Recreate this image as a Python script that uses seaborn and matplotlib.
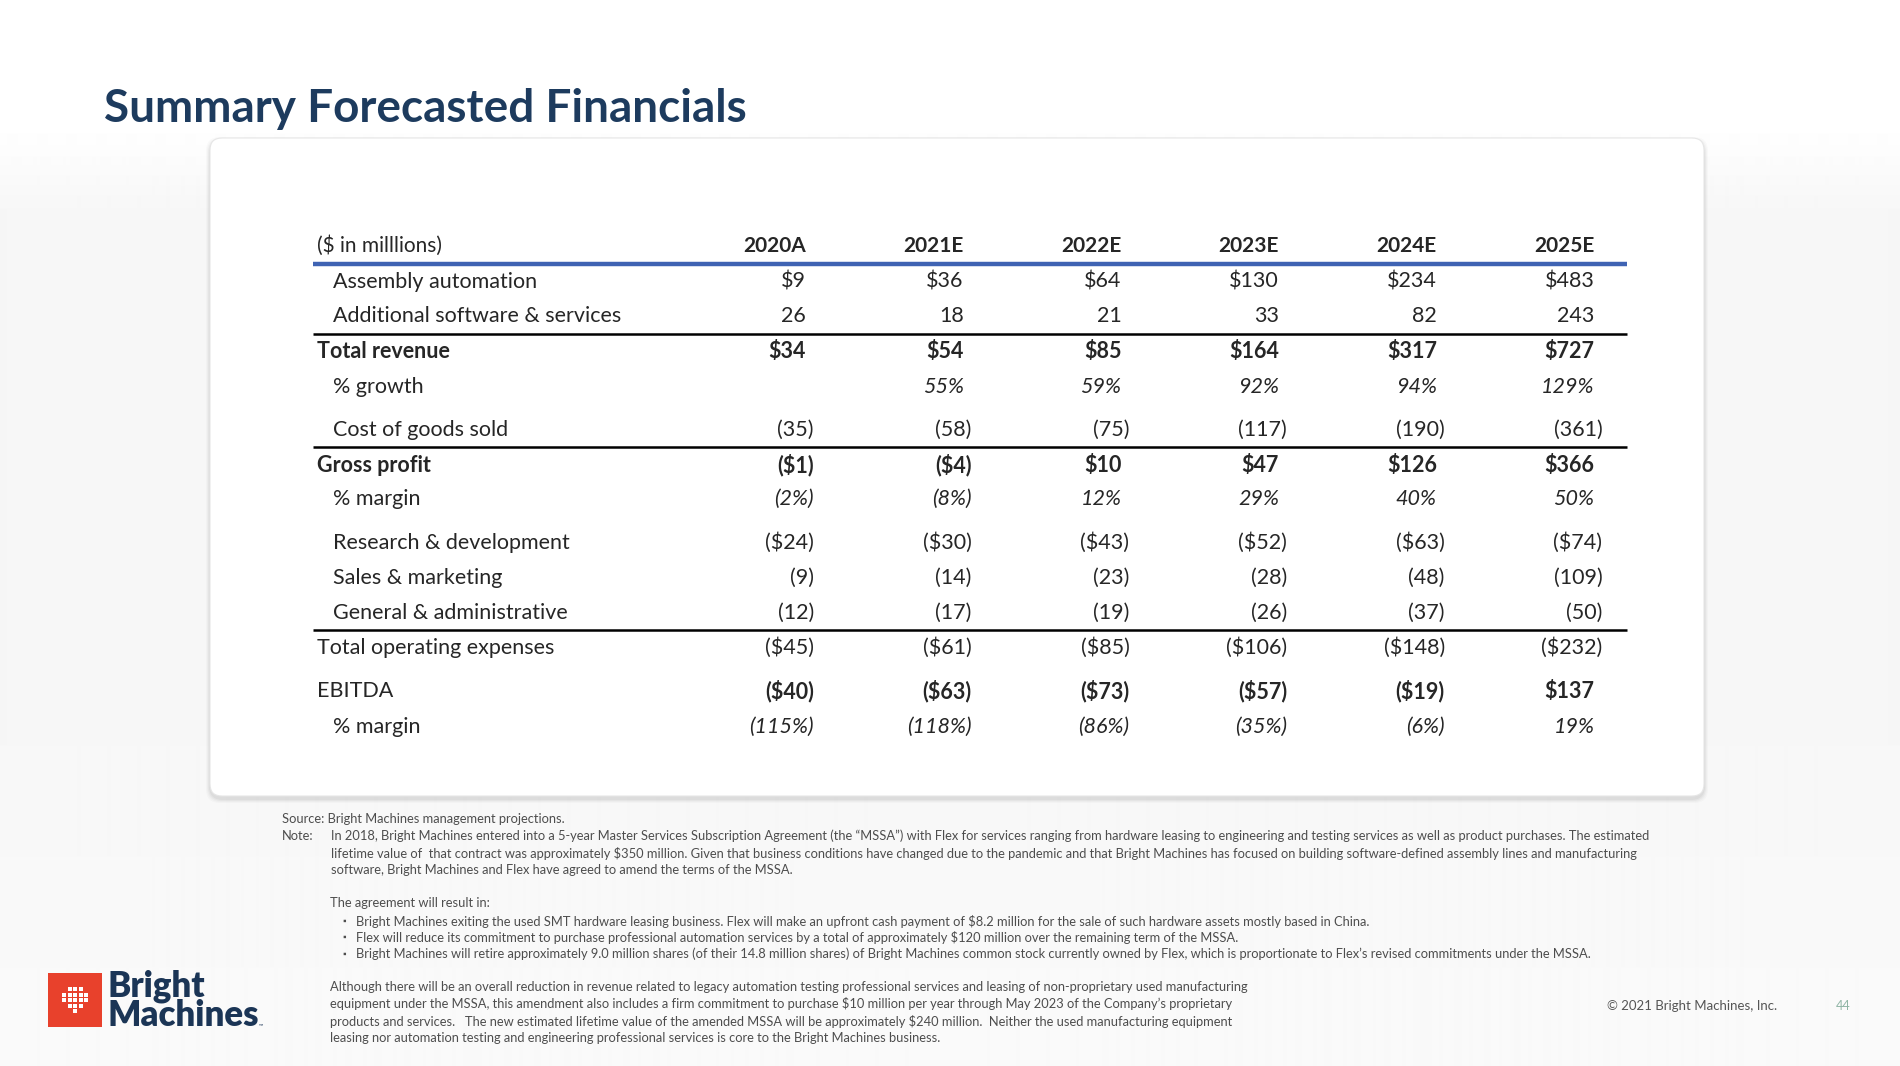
import numpy as np
import pandas as pd
import seaborn as sns
import matplotlib
matplotlib.use("Agg")
import matplotlib.pyplot as plt
from matplotlib.patches import FancyBboxPatch, Rectangle
from matplotlib import font_manager as fm

# ---------------- data ----------------
years = ["2020A", "2021E", "2022E", "2023E", "2024E", "2025E"]
assembly_automation = [9, 36, 64, 130, 234, 483]
additional_software = [26, 18, 21, 33, 82, 243]
total_revenue = [34, 54, 85, 164, 317, 727]
revenue_growth = [None, 55, 59, 92, 94, 129]
cost_of_goods = [-35, -58, -75, -117, -190, -361]
gross_profit = [-1, -4, 10, 47, 126, 366]
gross_margin = [-2, -8, 12, 29, 40, 50]
research_dev = [-24, -30, -43, -52, -63, -74]
sales_marketing = [-9, -14, -23, -28, -48, -109]
general_admin = [-12, -17, -19, -26, -37, -50]
total_opex = [-45, -61, -85, -106, -148, -232]
ebitda = [-40, -63, -73, -57, -19, 137]
ebitda_margin = [-115, -118, -86, -35, -6, 19]

row_labels = ["Assembly automation", "Additional software & services", "Total revenue",
              "% growth", "Cost of goods sold", "Gross profit", "% margin",
              "Research & development", "Sales & marketing", "General & administrative",
              "Total operating expenses", "EBITDA", "% margin"]

sns.set_theme(style="white")
installed = {f.name for f in fm.fontManager.ttflist}
MAIN = "Lato" if "Lato" in installed else "DejaVu Sans"
NOTE = MAIN
plt.rcParams["font.family"] = [MAIN, "DejaVu Sans"]

W, H = 1900, 1066
fig = plt.figure(figsize=(W / 100, H / 100), dpi=100, facecolor="white")
ax = fig.add_axes([0, 0, 1, 1])
ax.axis("off")

# soft slide background: white at top, very light grey lower down
yy = np.linspace(0, 1, 1066)[:, None]
t = np.clip((yy - 0.10) / 0.12, 0, 1)
t = t * t * (3 - 2 * t)
shade = 1.0 - 0.035 * t + 0.015 * np.clip((yy - 0.6) / 0.4, 0, 1) * t
ax.imshow(np.repeat(shade, 2, axis=1), cmap="gray", vmin=0, vmax=1, aspect="auto",
          extent=(0, W, H, 0), zorder=0, interpolation="bilinear")
ax.set_xlim(0, W)
ax.set_ylim(H, 0)

# title
ax.text(104, 109, "Summary Forecasted Financials", fontsize=33, fontweight="bold",
        color="#1d3b5e", va="center", ha="left", zorder=3)

# card with soft shadow
for i, a in enumerate([0.02, 0.025, 0.03, 0.04]):
    d = 8 - 2 * i
    ax.add_patch(FancyBboxPatch((210 - d / 2, 138 - d / 2 + 3), 1494 + d, 658 + d,
                                boxstyle="round,pad=0,rounding_size=14",
                                fc="black", ec="none", alpha=a, zorder=1))
ax.add_patch(FancyBboxPatch((210, 138), 1494, 658, boxstyle="round,pad=0,rounding_size=12",
                            fc="white", ec="#e6e6e6", lw=0.8, zorder=2))

# ---------------- table ----------------
TXT = "#262626"
col_x = 806 + 157.7 * np.arange(len(years))
x_left, x_right = 313, 1627
x_lab0, x_lab1 = 317, 333


def fmt(v, kind):
    if v is None:
        return ""
    body = f"{abs(v)}"
    if kind == "dollar":
        body = "$" + body
    elif kind == "pct":
        body = body + "%"
    return f"({body})" if v < 0 else body


# header
ax.text(x_lab0, 246, "($ in milllions)", fontsize=15, color=TXT, va="center", ha="left", zorder=3)
for x, yr in zip(col_x, years):
    ax.text(x, 246, yr, fontsize=15, fontweight="bold", color=TXT, va="center", ha="right", zorder=3)
ax.plot([x_left, x_right], [264, 264], color="#3f63b3", lw=3.2, solid_capstyle="butt", zorder=3)

rows = [
    # label idx, values, kind, y, indent, label bold, value bold, italic
    (0, assembly_automation, "dollar", 282, True, False, False, False),
    (1, additional_software, "plain", 316, True, False, False, False),
    (2, total_revenue, "dollar", 352, False, True, True, False),
    (3, revenue_growth, "pct", 387, True, False, False, True),
    (4, cost_of_goods, "plain", 430, True, False, False, False),
    (5, gross_profit, "dollar", 465, False, True, True, False),
    (6, gross_margin, "pct", 499, True, False, False, True),
    (7, research_dev, "dollar", 543, True, False, False, False),
    (8, sales_marketing, "plain", 578, True, False, False, False),
    (9, general_admin, "plain", 613, True, False, False, False),
    (10, total_opex, "dollar", 648, False, False, False, False),
    (11, ebitda, "dollar", 691, False, False, True, False),
    (12, ebitda_margin, "pct", 727, True, False, False, True),
]
for idx, vals, kind, y, indent, lbold, vbold, ital in rows:
    ax.text(x_lab1 if indent else x_lab0, y, row_labels[idx], fontsize=15.5, color=TXT,
            fontweight="bold" if lbold else "normal", va="center", ha="left", zorder=3)
    for x, v in zip(col_x, vals):
        s = fmt(v, kind)
        shift = 8 if s.endswith(")") else 0
        ax.text(x + shift, y, s, fontsize=15.5, color=TXT,
                fontweight="bold" if vbold else "normal",
                fontstyle="italic" if ital else "normal",
                va="center", ha="right", zorder=3)

for y in [334, 447, 630]:
    ax.plot([x_left, x_right], [y, y], color="black", lw=1.8, solid_capstyle="butt", zorder=3)

# ---------------- footnotes ----------------
NC = "#4d4d4d"
FS = 9.3
ax.text(282, 819, "Source: Bright Machines management projections.", fontsize=FS, color=NC,
        family=NOTE, va="center", zorder=3)
ax.text(282, 836, "Note:", fontsize=FS, color=NC, family=NOTE, va="center", zorder=3)
note_lines = [
    "In 2018, Bright Machines entered into a 5-year Master Services Subscription Agreement (the \u201cMSSA\u201d) with Flex for services ranging from hardware leasing to engineering and testing services as well as product purchases. The estimated",
    "lifetime value of  that contract was approximately $350 million. Given that business conditions have changed due to the pandemic and that Bright Machines has focused on building software-defined assembly lines and manufacturing",
    "software, Bright Machines and Flex have agreed to amend the terms of the MSSA.",
]
for i, line in enumerate(note_lines):
    ax.text(331, 836 + 17 * i, line, fontsize=FS, color=NC, family=NOTE, va="center", zorder=3)

ax.text(330, 903, "The agreement will result in:", fontsize=FS, color=NC, family=NOTE, va="center", zorder=3)
bullets = [
    "Bright Machines exiting the used SMT hardware leasing business. Flex will make an upfront cash payment of $8.2 million for the sale of such hardware assets mostly based in China.",
    "Flex will reduce its commitment to purchase professional automation services by a total of approximately $120 million over the remaining term of the MSSA.",
    "Bright Machines will retire approximately 9.0 million shares (of their 14.8 million shares) of Bright Machines common stock currently owned by Flex, which is proportionate to Flex\u2019s revised commitments under the MSSA.",
]
for i, b in enumerate(bullets):
    y = 921 + 16.5 * i
    ax.text(342, y, "\u25aa", fontsize=6.5, color=NC, va="center", ha="left", zorder=3)
    ax.text(356, y, b, fontsize=FS, color=NC, family=NOTE, va="center", zorder=3)

para = [
    "Although there will be an overall reduction in revenue related to legacy automation testing professional services and leasing of non-proprietary used manufacturing",
    "equipment under the MSSA, this amendment also includes a firm commitment to purchase $10 million per year through May 2023 of the Company\u2019s proprietary",
    "products and services.   The new estimated lifetime value of the amended MSSA will be approximately $240 million.  Neither the used manufacturing equipment",
    "leasing nor automation testing and engineering professional services is core to the Bright Machines business.",
]
for i, line in enumerate(para):
    ax.text(330, 987 + 17 * i, line, fontsize=FS, color=NC, family=NOTE, va="center", zorder=3)

# ---------------- logo & footer ----------------
ax.add_patch(Rectangle((48, 973), 54, 54, fc="#e8412c", ec="none", zorder=3))
dot_rows = [(-1, 0, 1), (-2, -1, 0, 1, 2), (-2, -1, 0, 1, 2), (-1, 0, 1), (0,)]
dx, dy = [], []
for r, cols in enumerate(dot_rows):
    for c in cols:
        dx.append(75 + c * 5.5)
        dy.append(989 + r * 5.5)
ax.scatter(dx, dy, s=5, marker="s", color="white", zorder=4, linewidths=0)
ax.text(107, 986, "Bright", fontsize=25, fontweight="heavy", color="#1b3556", va="center", ha="left", zorder=3)
ax.text(107, 1016, "Machines", fontsize=25, fontweight="heavy", color="#1b3556", va="center", ha="left", zorder=3)
ax.text(259, 1026, "\u2122", fontsize=4, color="#1b3556", va="center", ha="left", zorder=3)

ax.text(1777, 1006, "\u00a9 2021 Bright Machines, Inc.", fontsize=9.5, color="#555555",
        va="center", ha="right", zorder=3)
ax.text(1843, 1006, "44", fontsize=9, color="#8fb5a5", va="center", ha="center", zorder=3)

fig.savefig("out.png", dpi=100, facecolor=fig.get_facecolor())
